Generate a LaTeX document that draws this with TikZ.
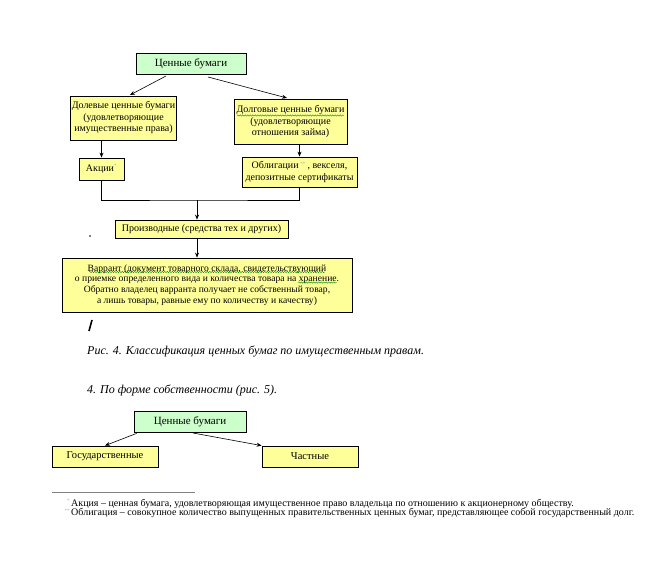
\documentclass[tikz,border=0pt]{standalone}
\usepackage{fontspec}
\setmainfont{Liberation Serif}
\usetikzlibrary{arrows.meta,calc,decorations.pathmorphing}
\definecolor{byel}{HTML}{FFFF99}
\definecolor{bgrn}{HTML}{CCFFCC}
\newcommand{\fnmark}[1]{\llap{\raisebox{3.5pt}{\color{gray!70}\fontsize{5}{5}\selectfont #1}\kern1.5pt}}
\tikzset{
  box/.style={draw=black, line width=0.8pt, fill=byel, inner sep=1pt, align=center,
              font=\fontsize{10}{11.5}\selectfont},
  gbox/.style={box, fill=bgrn, font=\fontsize{11}{12}\selectfont},
  arr/.style={-{Stealth[length=5pt,width=4pt]}, line width=0.6pt},
  ln/.style={line width=0.6pt},
  wav/.style={draw=green!55!black, line width=0.4pt, decorate,
              decoration={snake, amplitude=0.7pt, segment length=2.5pt}},
  capt/.style={anchor=base west, inner sep=0pt, font=\fontsize{12}{14}\selectfont\itshape},
  foot/.style={anchor=north west, inner sep=0pt, align=left, font=\fontsize{10}{9.5}\selectfont}
}
\begin{document}
\begin{tikzpicture}[x=1pt,y=-1pt]
\useasboundingbox[fill=white] (0,0) rectangle (647,561);

% ---- Figure 4 ----
\node[gbox, minimum width=110pt, minimum height=21pt] (top) at (191,63.5) {Ценные бумаги};
\node[box, minimum width=105pt, minimum height=44pt] (dol) at (123.5,118)
  {Долевые ценные бумаги\\(удовлетворяющие\\имущественные права)};
\node[box, minimum width=113pt, minimum height=45pt] (dolg) at (290.5,121.5)
  {Долговые ценные бумаги\\(удовлетворяющие\\отношения займа)};
\node[box, minimum width=45pt, minimum height=22pt] (akc) at (101.5,169)
  {Акции\textsuperscript{\color{gray!70}\fontsize{5}{5}\selectfont*}};
\node[box, minimum width=115pt, minimum height=30pt] (obl) at (299.5,172)
  {Облигации\,\textsuperscript{\color{gray!70}\fontsize{5}{5}\selectfont**}\,, векселя,\\депозитные сертификаты};
\node[box, minimum width=173pt, minimum height=18pt] (prz) at (201.5,229)
  {Производные (средства тех и других)};
\node[box, minimum width=290pt, minimum height=54pt, font=\fontsize{9.6}{10.6}\selectfont] (var) at (207,285)
  {Варрант (документ товарного склада, свидетельствующий\\
   о приемке определенного вида и количества товара на хранение.\\
   Обратно владелец варранта получает не собственный товар,\\
   а лишь товары, равные ему по количеству и качеству)};

\coordinate (tl) at (166,76);
\coordinate (tr) at (208,77);
\coordinate (join) at (197,200);

\draw[arr] (tl) -- (130,95);
\draw[arr] (tr) -- (287,98);
\draw[arr] (akc.north |- dol.south) -- (akc.north);
\draw[arr] (obl.north |- dolg.south) -- (obl.north);
\draw[ln] (akc.south) |- (join) -| (obl.south);
\draw[arr] (join) -- (join |- prz.north);
\draw[arr] (join |- prz.south) -- (join |- var.north);

% spell-check marks
\draw[wav] (237,115.5) -- (344,115.5);
\draw[wav] (89,272) -- (325,272);
\draw[wav] (298,282.5) -- (337,282.5);

% stray marks
\fill (90,236) circle (0.8pt);
\draw[line width=1.6pt] (89,331) -- (92,320);

% captions
\node[capt] (c4) at (87,354) {Рис. 4. Классификация ценных бумаг по имущественным правам.};
\node[capt] (c5) at (87,393) {4. По форме собственности (рис. 5).};

% ---- Figure 5 ----
\node[gbox, minimum width=112pt, minimum height=21pt] (top2) at (190,421.5) {Ценные бумаги};
\node[box, minimum width=106pt, minimum height=21pt, font=\fontsize{10.5}{12}\selectfont] (gos) at (105,456.5) {Государственные};
\node[box, minimum width=96pt, minimum height=21pt, font=\fontsize{10.5}{12}\selectfont] (cha) at (310,456.5) {Частные};
\draw[arr] (top2.south west) ++(3,1) -- (gos.north);
\draw[arr] (193,433) -- (cha.north west);

% ---- footnotes ----
\draw[line width=0.5pt, gray] (52,492.5) -- (195,492.5);
\node[foot] (fn) at (71,499)
  {\fnmark{*}Акция – ценная бумага, удовлетворяющая имущественное право владельца по отношению к акционерному обществу.\\
   \fnmark{**}Облигация – совокупное количество выпущенных правительственных ценных бумаг, представляющее собой государственный долг.};
\end{tikzpicture}
\end{document}
